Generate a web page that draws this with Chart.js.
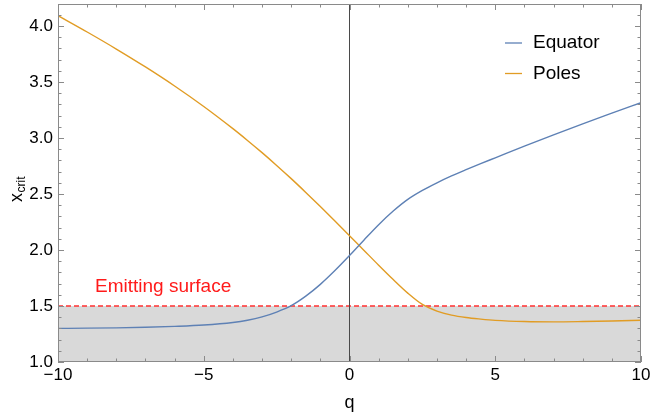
<!DOCTYPE html>
<html>
<head>
<meta charset="utf-8">
<script src="https://cdn.jsdelivr.net/npm/chart.js@4.4.0/dist/chart.umd.min.js"></script>
<style>
  html, body { margin: 0; padding: 0; background: #fff; }
  #wrap { width: 650px; height: 420px; }
</style>
</head>
<body>
<div id="wrap"><canvas id="chart" width="650" height="420"></canvas></div>
<script>
// values
const qValues      = [-10, -9, -8, -7, -6, -5, -4, -3.5, -3, -2.5, -2, -1.5, -1, -0.5, 0, 0.5, 1, 1.5, 2, 2.5, 3, 3.5, 4, 4.5, 5, 6, 7, 8, 9, 10];
const equatorXcrit = [1.300, 1.302, 1.305, 1.310, 1.318, 1.330, 1.353, 1.373, 1.403, 1.446, 1.503, 1.588, 1.693, 1.816, 1.950, 2.090, 2.226, 2.348, 2.452, 2.532, 2.600, 2.661, 2.717, 2.771, 2.823, 2.927, 3.028, 3.126, 3.221, 3.315];
const polesXcrit   = [4.092, 3.946, 3.794, 3.634, 3.464, 3.281, 3.083, 2.978, 2.869, 2.755, 2.637, 2.514, 2.388, 2.259, 2.128, 1.996, 1.864, 1.736, 1.615, 1.514, 1.455, 1.419, 1.397, 1.383, 1.372, 1.361, 1.358, 1.361, 1.366, 1.373];
const surfaceLevel = 1.5;
const xTicks = [-10, -5, 0, 5, 10];
const yTicks = [1.0, 1.5, 2.0, 2.5, 3.0, 3.5, 4.0];
const seriesNames = ["Equator", "Poles"];
const surfaceLabel = "Emitting surface";

const xMin = -10, xMax = 10, yMin = 1.0, yMax = 4.196;
const FONT = '"Liberation Sans", Arial, sans-serif';
const BLUE = "#5e81b5", ORANGE = "#e19c24";

const toPoints = (ys) => qValues.map((q, i) => ({ x: q, y: ys[i] }));

// frame, inward ticks, legend, y title and the surface label
const decorations = {
  id: "decorations",
  afterDatasetsDraw(chart) {
    const { ctx, chartArea: a, scales: { x, y } } = chart;
    ctx.save();
    ctx.strokeStyle = "#8a8a8a";
    ctx.lineWidth = 1;
    ctx.strokeRect(a.left + 0.5, a.top + 0.5, a.right - a.left - 1, a.bottom - a.top - 1);

    ctx.beginPath();
    for (let q = xMin; q <= xMax; q++) {
      const px = Math.round(x.getPixelForValue(q)) + 0.5;
      const len = q % 5 === 0 ? 6 : 3.5;
      ctx.moveTo(px, a.bottom); ctx.lineTo(px, a.bottom - len);
      ctx.moveTo(px, a.top); ctx.lineTo(px, a.top + len);
    }
    for (let k = 10; k <= 42; k++) {
      const v = k / 10;
      if (v > yMax) break;
      const py = Math.round(y.getPixelForValue(v)) + 0.5;
      const len = k % 5 === 0 ? 6 : 3.5;
      ctx.moveTo(a.left, py); ctx.lineTo(a.left + len, py);
      ctx.moveTo(a.right, py); ctx.lineTo(a.right - len, py);
    }
    ctx.stroke();

    // legend
    const colors = [BLUE, ORANGE];
    ctx.font = "19px " + FONT;
    ctx.textBaseline = "middle";
    ctx.fillStyle = "#000";
    seriesNames.forEach((name, i) => {
      const ly = 43 + i * 30.5;
      ctx.strokeStyle = colors[i];
      ctx.lineWidth = 1.3;
      ctx.beginPath();
      ctx.moveTo(505, ly); ctx.lineTo(522, ly);
      ctx.stroke();
      ctx.fillText(name, 533, ly);
    });

    // surface label
    ctx.fillStyle = "#ff1a1a";
    ctx.font = "19px " + FONT;
    ctx.textBaseline = "middle";
    ctx.fillText(surfaceLabel, x.getPixelForValue(-8.73), y.getPixelForValue(1.67));

    // y title: x with subscript crit
    ctx.fillStyle = "#000";
    ctx.translate(22, 202);
    ctx.rotate(-Math.PI / 2);
    ctx.textBaseline = "alphabetic";
    ctx.font = "18px " + FONT;
    ctx.fillText("x", 0, 0);
    const w = ctx.measureText("x").width;
    ctx.font = "12px " + FONT;
    ctx.fillText("crit", w + 0.5, 3);
    ctx.restore();
  }
};

new Chart(document.getElementById("chart"), {
  type: "line",
  data: {
    datasets: [
      { label: seriesNames[0], data: toPoints(equatorXcrit), borderColor: BLUE, borderWidth: 1.4,
        pointRadius: 0, cubicInterpolationMode: "monotone", fill: false },
      { label: seriesNames[1], data: toPoints(polesXcrit), borderColor: ORANGE, borderWidth: 1.4,
        pointRadius: 0, cubicInterpolationMode: "monotone", fill: false },
      { label: "q = 0", data: [{ x: 0, y: yMin }, { x: 0, y: yMax }], borderColor: "#4a4a4a", borderWidth: 1,
        pointRadius: 0, fill: false },
      { label: surfaceLabel, data: [{ x: xMin, y: surfaceLevel }, { x: xMax, y: surfaceLevel }],
        borderColor: "#ff3030", borderWidth: 1.6, borderDash: [5, 3], pointRadius: 0,
        fill: "start", backgroundColor: "#d9d9d9" }
    ]
  },
  options: {
    responsive: false,
    animation: false,
    devicePixelRatio: 1,
    layout: { padding: { left: 0, right: 9, top: 4, bottom: 0 } },
    plugins: { legend: { display: false }, tooltip: { enabled: false } },
    scales: {
      x: {
        type: "linear", min: xMin, max: xMax,
        grid: { display: false, drawTicks: false }, border: { display: false },
        ticks: { stepSize: 5, color: "#000", font: { family: FONT, size: 17 }, padding: 3, maxRotation: 0,
          callback: (v) => String(v).replace("-", "\u2212") },
        afterBuildTicks: (s) => { s.ticks = xTicks.map((v) => ({ value: v })); },
        title: { display: true, text: "q", color: "#000", font: { family: FONT, size: 18 }, padding: { top: 0, bottom: 6 } },
        afterFit: (s) => { s.height = 58; s.paddingRight = 0; }
      },
      y: {
        type: "linear", min: yMin, max: yMax,
        grid: { display: false, drawTicks: false }, border: { display: false },
        ticks: { color: "#000", font: { family: FONT, size: 17 }, padding: 5,
          callback: (v) => Number(v).toFixed(1) },
        afterBuildTicks: (s) => { s.ticks = yTicks.map((v) => ({ value: v })); },
        afterFit: (s) => { s.width = 58; s.paddingTop = 0; s.paddingBottom = 0; }
      }
    }
  },
  plugins: [decorations]
});
</script>
</body>
</html>
